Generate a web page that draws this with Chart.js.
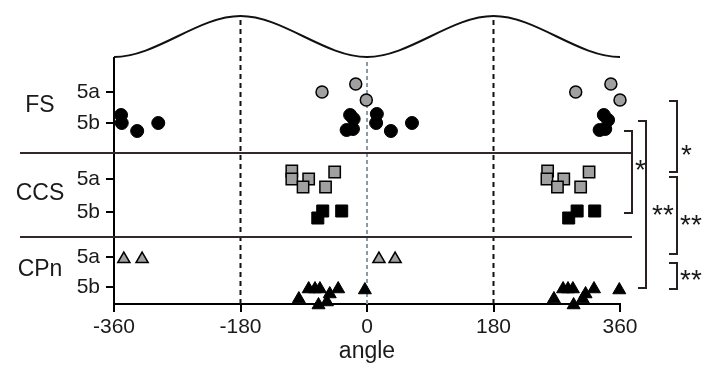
<!DOCTYPE html>
<html>
<head>
<meta charset="utf-8">
<script src="https://cdn.jsdelivr.net/npm/chart.js@4.4.1/dist/chart.umd.min.js"></script>
<style>
  body { margin: 0; background: #fff; }
  #wrap { width: 717px; height: 365px; }
</style>
</head>
<body>
<div id="wrap"><canvas id="myChart" width="717" height="365"></canvas></div>
<script>
// rows of the y axis, top to bottom (level = position on the y scale)
const groups = ["FS", "CCS", "CPn"];
const rowLabels = ["5a", "5b", "5a", "5b", "5a", "5b"];
const rowLevels = [212, 181, 125, 92, 47, 17];
const dividerLevels = [151, 67];
const refAngles = [-180, 0, 180];

// stimulus curve, peaks at -180 / 180, troughs at -360 / 0 / 360
const curveAngles = [-540, -360, -180, 0, 180, 360, 540];
const curveLevels = [288, 247, 288, 247, 288, 247, 288];

// FS
const fs5aAngles = [-64, -16, -1, 297, 347, 360];
const fs5aLevels = [212, 220, 204, 212, 220, 204];
const fs5bAngles = [-350, -349, -327, -297, -24, -19, -29, -20, 14, 13, 34, 64, 337, 343, 331, 339];
const fs5bLevels = [189, 181, 173, 181, 189, 185, 174, 175, 190, 181, 173, 181, 189, 184, 174, 175];

// CCS
const ccs5aAngles = [-107, -107, -83, -91, -59, -46, 257, 256, 280, 271, 304, 316];
const ccs5aLevels = [133, 125, 125, 117, 117, 132, 133, 125, 125, 117, 117, 132];
const ccs5bAngles = [-70, -63, -36, 287, 299, 324];
const ccs5bLevels = [86, 93, 93, 86, 93, 93];

// CPn
const cpn5aAngles = [-346, -320, 17, 40];
const cpn5aLevels = [45, 45, 45, 45];
const cpn5bAngles = [-97, -83, -74, -67, -69, -57, -53, -41, -3, 266, 279, 286, 293, 294, 307, 311, 323, 359];
const cpn5bLevels = [5, 15, 15, 15, -1, 2, 10, 15, 14, 5, 15, 15, 15, -1, 5, 10, 15, 14];

// significance brackets
const bracketTops = [203, 173, 183, 127, 41];
const bracketBottoms = [132, 91, 16, 50, 15];
const bracketStars = ["*", "*", "**", "**", "**"];
const starLevels = [154, 139, 94, 84, 29];

const ink = "#1a1a1a";
const grey = "#a0a0a0";
const font = "'Liberation Sans', Arial, Helvetica, sans-serif";

function pts(a, l) {
  return a.map((x, i) => ({ x: x, y: l[i] }));
}

function marks(data, style, fill, r) {
  return {
    data: data,
    pointStyle: style,
    pointRadius: r,
    pointHoverRadius: r,
    backgroundColor: fill,
    borderColor: "#000",
    borderWidth: fill === grey ? 1.5 : 1,
    clip: false,
  };
}

function levelAt(angle) {
  return curveLevels[curveAngles.indexOf(angle)];
}

const extras = {
  id: "extras",
  beforeDatasetsDraw(chart) {
    const ctx = chart.ctx;
    const xs = chart.scales.x;
    const ys = chart.scales.y;
    const area = chart.chartArea;
    ctx.save();
    // reference lines
    refAngles.forEach((a) => {
      const x = xs.getPixelForValue(a);
      ctx.beginPath();
      ctx.lineWidth = 2;
      if (a === 0) {
        ctx.strokeStyle = "#8c9aa6";
        ctx.setLineDash([4, 3]);
        ctx.moveTo(x, area.bottom);
        ctx.lineTo(x, ys.getPixelForValue(levelAt(a)) + 3);
      } else {
        ctx.strokeStyle = "#111";
        ctx.setLineDash([5, 4]);
        ctx.moveTo(x, area.bottom);
        ctx.lineTo(x, ys.getPixelForValue(levelAt(a)));
      }
      ctx.stroke();
    });
    ctx.setLineDash([]);
    // y axis line, from the bottom up to where the curve starts
    ctx.beginPath();
    ctx.strokeStyle = "#000";
    ctx.lineWidth = 2;
    ctx.moveTo(area.left, area.bottom);
    ctx.lineTo(area.left, ys.getPixelForValue(levelAt(xs.min)));
    ctx.stroke();
    // group dividers
    ctx.strokeStyle = "#33272a";
    dividerLevels.forEach((v) => {
      const y = ys.getPixelForValue(v);
      ctx.beginPath();
      ctx.moveTo(20, y);
      ctx.lineTo(area.right + 12, y);
      ctx.stroke();
    });
    // group names
    ctx.fillStyle = ink;
    ctx.font = "23px " + font;
    ctx.textAlign = "center";
    ctx.textBaseline = "middle";
    groups.forEach((g, i) => {
      const mid = (rowLevels[2 * i] + rowLevels[2 * i + 1]) / 2;
      ctx.fillText(g, 40, ys.getPixelForValue(mid) - 2);
    });
    ctx.restore();
  },
  afterDraw(chart) {
    const ctx = chart.ctx;
    const ys = chart.scales.y;
    const right = chart.chartArea.right;
    const bx = [57, 12, 26, 57, 57];
    const starX = [61, 15, 32, 60, 60];
    ctx.save();
    ctx.strokeStyle = "#2a2020";
    ctx.lineWidth = 2;
    ctx.fillStyle = ink;
    ctx.font = "28px " + font;
    ctx.textBaseline = "alphabetic";
    ctx.textAlign = "left";
    bracketTops.forEach((t, i) => {
      const x = right + bx[i];
      const y1 = ys.getPixelForValue(t);
      const y2 = ys.getPixelForValue(bracketBottoms[i]);
      ctx.beginPath();
      ctx.moveTo(x - 8, y1);
      ctx.lineTo(x, y1);
      ctx.lineTo(x, y2);
      ctx.lineTo(x - 8, y2);
      ctx.stroke();
      const m = ctx.measureText(bracketStars[i]);
      const cy = ys.getPixelForValue(starLevels[i]);
      const base = cy + (m.actualBoundingBoxAscent - m.actualBoundingBoxDescent) / 2;
      ctx.fillText(bracketStars[i], right + starX[i], base);
    });
    ctx.restore();
  },
};

new Chart("myChart", {
  type: "scatter",
  data: {
    datasets: [
      {
        data: pts(curveAngles, curveLevels),
        showLine: true,
        cubicInterpolationMode: "monotone",
        borderColor: "#111",
        borderWidth: 2,
        pointRadius: 0,
        pointHoverRadius: 0,
      },
      marks(pts(fs5aAngles, fs5aLevels), "circle", grey, 6),
      marks(pts(fs5bAngles, fs5bLevels), "circle", "#000", 6.5),
      marks(pts(ccs5aAngles, ccs5aLevels), "rect", grey, 8),
      marks(pts(ccs5bAngles, ccs5bLevels), "rect", "#000", 8.5),
      marks(pts(cpn5aAngles, cpn5aLevels), "triangle", grey, 7),
      marks(pts(cpn5bAngles, cpn5bLevels), "triangle", "#000", 7.5),
    ],
  },
  options: {
    responsive: false,
    animation: false,
    events: [],
    layout: { padding: { left: 0, right: 97, top: 10, bottom: 0 } },
    plugins: { legend: { display: false }, tooltip: { enabled: false } },
    scales: {
      x: {
        type: "linear",
        min: -360,
        max: 360,
        afterFit: (s) => { s.height = 61; },
        border: { display: true, color: "#000", width: 2 },
        grid: { drawOnChartArea: false, drawTicks: true, tickLength: 8, color: "#000", lineWidth: 2 },
        ticks: { stepSize: 180, color: ink, padding: 3, maxRotation: 0, autoSkip: false, font: { size: 21, family: font } },
        title: { display: true, text: "angle", color: ink, padding: { top: 0, bottom: 0 }, font: { size: 23, family: font } },
      },
      y: {
        type: "linear",
        min: 0,
        max: 294,
        afterFit: (s) => { s.width = 114; s.paddingTop = 0; s.paddingBottom = 0; },
        afterBuildTicks: (s) => { s.ticks = rowLevels.map((v) => ({ value: v })); },
        border: { display: false },
        grid: { drawOnChartArea: false, drawTicks: true, tickLength: 8, color: "#000", lineWidth: 2 },
        ticks: {
          color: ink,
          padding: 6,
          font: { size: 21, family: font },
          callback: (v, i) => rowLabels[i],
        },
      },
    },
  },
  plugins: [extras],
});
</script>
</body>
</html>
